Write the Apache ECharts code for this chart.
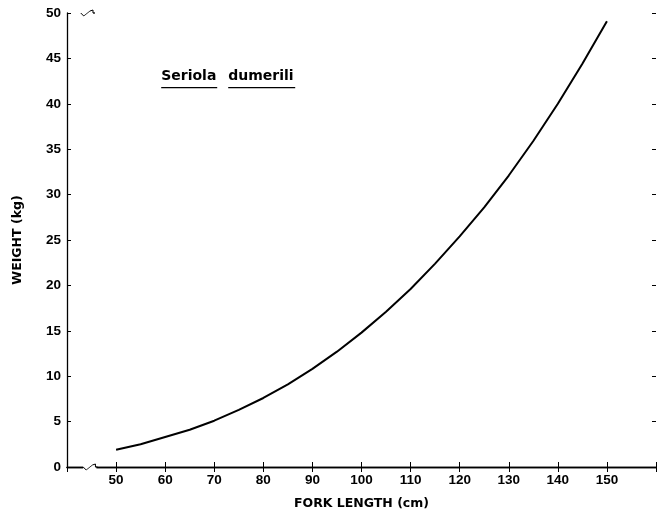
<!DOCTYPE html>
<html>
<head>
<meta charset="utf-8">
<script src="https://cdn.jsdelivr.net/npm/echarts@6/dist/echarts.min.js"></script>
<style>html,body{margin:0;padding:0;background:#fff}#c{width:659px;height:517px}</style>
</head>
<body>
<div id="c"></div>
<script>
// Fork length (cm) and weight (kg)
var forkLength = [50, 55, 60, 65, 70, 75, 80, 85, 90, 95, 100, 105, 110, 115, 120, 125, 130, 135, 140, 145, 150];
var weight     = [1.9, 2.5, 3.3, 4.1, 5.1, 6.3, 7.6, 9.1, 10.8, 12.7, 14.8, 17.1, 19.6, 22.4, 25.4, 28.6, 32.1, 35.9, 40.0, 44.4, 49.1];
var xTicks = [50, 60, 70, 80, 90, 100, 110, 120, 130, 140, 150];
var yTicks = [0, 5, 10, 15, 20, 25, 30, 35, 40, 45, 50];
var xTitle = 'FORK LENGTH (cm)';
var yTitle = 'WEIGHT (kg)';
var speciesLabel = ['Seriola', 'dumerili'];

var FONT = 'Liberation Sans';
var TFONT = 'DejaVu Sans';
var chart = echarts.init(document.getElementById('c'), null, {renderer: 'canvas'});
var pts = forkLength.map(function (x, i) { return [x, weight[i]]; });

chart.setOption({
  animation: false,
  backgroundColor: '#fff',
  grid: {left: 67, right: 1, top: 13, bottom: 50},
  xAxis: [{
    type: 'value', min: 40, max: 160, interval: 10, position: 'bottom',
    name: xTitle, nameLocation: 'middle', nameGap: 30,
    nameTextStyle: {fontFamily: TFONT, fontWeight: 'bold', fontSize: 12.5, color: '#000'},
    axisLine: {lineStyle: {color: '#000', width: 1.3}},
    axisTick: {inside: true, length: 5, lineStyle: {color: '#000', width: 1}},
    axisLabel: {fontFamily: FONT, fontWeight: 'bold', fontSize: 13.5, color: '#000', margin: 6,
      formatter: function (v) { return xTicks.indexOf(v) >= 0 ? String(v) : ''; }},
    splitLine: {show: false}
  }, {
    type: 'value', min: 40, max: 160, interval: 10, position: 'top',
    axisLine: {show: true, lineStyle: {color: '#000', width: 1.3}},
    axisTick: {inside: true, length: 5, lineStyle: {color: '#000', width: 1}},
    axisLabel: {show: false}, splitLine: {show: false}
  }],
  yAxis: [{
    type: 'value', min: 0, max: 50, interval: 5, position: 'left',
    name: yTitle, nameLocation: 'middle', nameGap: 43, nameRotate: 90,
    nameTextStyle: {fontFamily: TFONT, fontWeight: 'bold', fontSize: 12.5, color: '#000'},
    axisLine: {lineStyle: {color: '#000', width: 1.3}},
    axisTick: {inside: true, length: 4, lineStyle: {color: '#000', width: 1}},
    axisLabel: {fontFamily: FONT, fontWeight: 'bold', fontSize: 13.5, color: '#000', margin: 6,
      formatter: function (v) { return yTicks.indexOf(v) >= 0 ? String(v) : ''; }},
    splitLine: {show: false}
  }, {
    type: 'value', min: 0, max: 50, interval: 5, position: 'right',
    axisLine: {show: false},
    axisTick: {show: true, inside: true, length: 4, lineStyle: {color: '#000', width: 1}},
    axisLabel: {show: false}, splitLine: {show: false}
  }],
  series: [{
    type: 'line', data: pts, smooth: false, symbol: 'none', xAxisIndex: 0, yAxisIndex: 0,
    lineStyle: {color: '#000', width: 2, join: 'round'}
  }]
});

function px(x, y) { return chart.convertToPixel({xAxisIndex: 0, yAxisIndex: 0}, [x, y]); }
var b0 = px(43.3, 0), b1 = px(46.0, 0), t0 = px(42.8, 50), t1 = px(45.5, 50);
var lab = px(59.6, 43);
function breakMark(p0, p1) {
  return [
    {type: 'rect', shape: {x: p0[0], y: p0[1] - 3, width: p1[0] - p0[0], height: 6}, style: {fill: '#fff'}, z: 100},
    {type: 'line', shape: {x1: p0[0], y1: p0[1], x2: p0[0] + 3, y2: p0[1] + 3}, style: {stroke: '#000', lineWidth: 1}, z: 101},
    {type: 'line', shape: {x1: p0[0] + 3, y1: p0[1] + 3, x2: p1[0] - 4, y2: p1[1] - 2}, style: {stroke: '#000', lineWidth: 0.8}, z: 101},
    {type: 'line', shape: {x1: p1[0] - 4, y1: p1[1] - 2, x2: p1[0] - 1, y2: p1[1] - 3}, style: {stroke: '#000', lineWidth: 1}, z: 101},
    {type: 'line', shape: {x1: p1[0] - 1, y1: p1[1] - 3, x2: p1[0] - 1, y2: p1[1]}, style: {stroke: '#000', lineWidth: 1}, z: 101},
    {type: 'line', shape: {x1: p1[0] - 1, y1: p1[1], x2: p1[0] + 1, y2: p1[1]}, style: {stroke: '#000', lineWidth: 1.3}, z: 101}
  ];
}
var g = breakMark(b0, b1).concat(breakMark(t0, t1));
// species label with underlines
var fontStr = 'bold 14px ' + TFONT;
var wA = 56, wB = 67, gap = 67;
g.push({type: 'text', x: lab[0] - 2, y: lab[1], style: {text: speciesLabel[0], font: fontStr, fill: '#000', textVerticalAlign: 'middle'}, z: 102});
g.push({type: 'text', x: lab[0] - 2 + gap, y: lab[1], style: {text: speciesLabel[1], font: fontStr, fill: '#000', textVerticalAlign: 'middle'}, z: 102});
g.push({type: 'line', shape: {x1: lab[0] - 2, y1: lab[1] + 11, x2: lab[0] - 2 + wA, y2: lab[1] + 11}, style: {stroke: '#000', lineWidth: 1.3}, z: 102});
g.push({type: 'line', shape: {x1: lab[0] - 2 + gap, y1: lab[1] + 11, x2: lab[0] - 2 + gap + wB, y2: lab[1] + 11}, style: {stroke: '#000', lineWidth: 1.3}, z: 102});
chart.setOption({graphic: g});
</script>
</body>
</html>
